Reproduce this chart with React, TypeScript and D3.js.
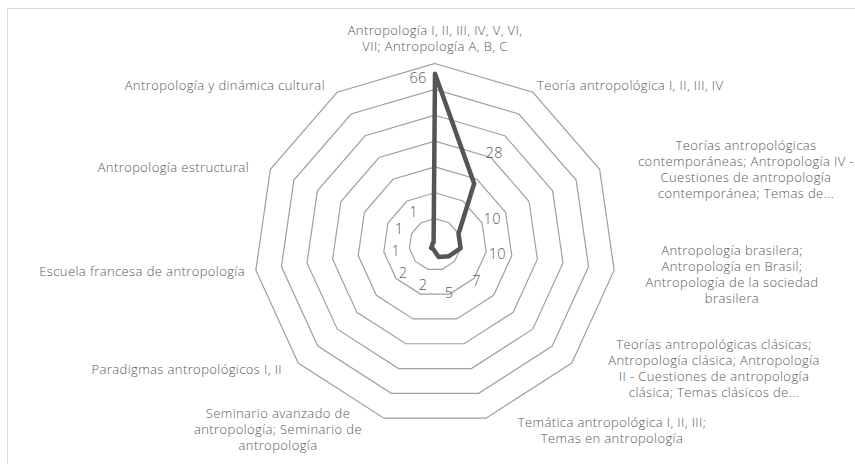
import React from "react"
import { scaleLinear, lineRadial, curveLinearClosed, range } from "d3"

// one entry per spoke, clockwise from the top
const categories = [
  ["Antropología I, II, III, IV, V, VI,", "VII; Antropología A, B, C"],
  ["Teoría antropológica I, II, III, IV"],
  ["Teorías antropológicas", "contemporáneas; Antropología IV -", "Cuestiones de antropología", "contemporánea; Temas de..."],
  ["Antropología brasilera;", "Antropología en Brasil;", "Antropología de la sociedad", "brasilera"],
  ["Teorías antropológicas clásicas;", "Antropología clásica; Antropología", "II - Cuestiones de antropología", "clásica; Temas clásicos de..."],
  ["Temática antropológica I, II, III;", "Temas en antropología"],
  ["Seminario avanzado de", "antropología; Seminario de", "antropología"],
  ["Paradigmas antropológicos I, II"],
  ["Escuela francesa de antropología"],
  ["Antropología estructural"],
  ["Antropología y dinámica cultural"],
]

const values = [66, 28, 10, 10, 7, 5, 2, 2, 1, 1, 1]

const gridTicks = [10, 20, 30, 40, 50, 60, 70]

// where excel dropped each category label: x, first line y, anchor
const labelLayout: [number, number, string][] = [
  [435, 30, "middle"],
  [537, 85, "start"],
  [746, 145, "middle"],
  [732, 250, "middle"],
  [714, 344, "middle"],
  [612, 422, "middle"],
  [278, 413, "middle"],
  [282, 369, "end"],
  [245, 271, "end"],
  [249, 167, "end"],
  [325, 85, "end"],
]

const W = 855
const H = 464
const cx = 435
const cy = 244.5
const R = 181

const textColor = "#595959"
const font = "'Open Sans', 'Liberation Sans', sans-serif"

export default function App() {
  const n = values.length
  const angle = (i: number) => (i * 2 * Math.PI) / n

  const r = scaleLinear().domain([0, 70]).range([0, R])

  const ring = lineRadial<number>()
    .angle((_, i) => angle(i))
    .radius((d) => r(d))
    .curve(curveLinearClosed)

  const gridPaths = gridTicks.map((t) => ring(range(n).map(() => t)))
  const dataPath = ring(values)

  const point = (i: number, rad: number) => [
    cx + rad * Math.sin(angle(i)),
    cy - rad * Math.cos(angle(i)),
  ]

  return (
    <svg
      width={W}
      height={H}
      style={{ position: "absolute", left: 0, top: 0, background: "#fff" }}
      fontFamily={font}
    >
      <rect x={7.5} y={8.5} width={W + 20} height={H + 20} fill="#fff" stroke="#d9d9d9" />

      <g transform={"translate(" + cx + "," + cy + ")"}>
        {gridPaths.map((d, i) => (
          <path key={i} d={d || ""} fill="none" stroke="#a0a0a0" strokeWidth={1.2} />
        ))}
        <path
          d={dataPath || ""}
          fill="none"
          stroke="#555555"
          strokeWidth={4.5}
          strokeLinejoin="round"
        />
      </g>

      {values.map((v, i) => {
        let rad = r(v) + 37
        let [x, y] = point(i, rad)
        if (rad > R) {
          // no room outside the web, excel tucks it to the left of the point
          const p = point(i, r(v))
          x = p[0] - 17
          y = p[1] + 4
        }
        return (
          <text
            key={i}
            x={x}
            y={y}
            textAnchor="middle"
            dominantBaseline="central"
            fontSize={14.5}
            fontWeight={300}
            fill={textColor}
            letterSpacing={0.3}
          >
            {v}
          </text>
        )
      })}

      {categories.map((lines, i) => {
        const [x, y, anchor] = labelLayout[i]
        return (
          <text
            key={i}
            textAnchor={anchor}
            fontSize={13}
            fontWeight={300}
            fill={textColor}
            letterSpacing={0.4}
          >
            {lines.map((l, j) => (
              <tspan key={j} x={x} y={y + j * 16} dominantBaseline="central">
                {l}
              </tspan>
            ))}
          </text>
        )
      })}
    </svg>
  )
}
